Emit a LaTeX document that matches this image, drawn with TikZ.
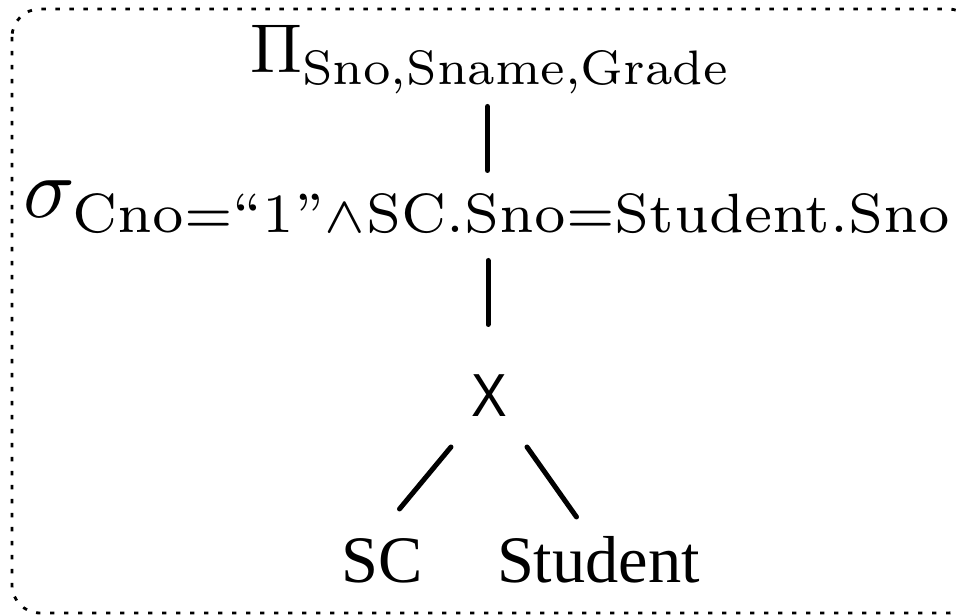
\documentclass[tikz,border=0pt]{standalone}
\usepackage{amsmath}
\usepackage{graphicx}
\usepackage{fontspec}
\newfontfamily\timesf{Liberation Serif}
\newfontfamily\arialf{Liberation Sans}
\begin{document}
\begin{tikzpicture}[x=0.25pt,y=-0.25pt,
  txt/.style={inner sep=0pt, outer sep=0pt, anchor=base},
  conn/.style={line width=1.25pt, line cap=round},
  frame/.style={line width=0.7pt, dash pattern=on 1.1pt off 2.4pt, rounded corners=7pt}]
\useasboundingbox (0,0) rectangle (956,616);
\clip (0,0) rectangle (956,616);
\draw[frame] (12,9) rectangle (976,613);
\node[txt] (pi) at (489.5,73) {\resizebox{119.25pt}{!}{$\Pi$\kern-0.1pt\raisebox{-1.7pt}{\fontsize{7}{8}\selectfont Sno,Sname,Grade}}};
\node[txt] (sig) at (487,218) {\resizebox{231.5pt}{!}{$\sigma$\kern-0.4pt\raisebox{-1.75pt}{\fontsize{6.5}{7.5}\selectfont Cno=``1''$\wedge$SC.Sno=Student.Sno}}};
\node[txt] (x) at (489.5,417) {\scalebox{0.88}[1]{\arialf\fontsize{15.2}{17}\selectfont X}};
\node[txt] (sc) at (382.5,583) {\timesf\fontsize{16.6}{18}\selectfont SC};
\node[txt] (st) at (598.5,583) {\timesf\fontsize{16.6}{18}\selectfont Student};
\draw[conn] ([shift={(-2,33.5)}]pi.base) -- ([shift={(0.5,-47.5)}]sig.base);
\draw[conn] ([shift={(1,42.5)}]sig.base) -- ([shift={(-1.5,-92.5)}]x.base);
\draw[conn] ([shift={(-38.5,30)}]x.base) -- ([shift={(17,-74)}]sc.base);
\draw[conn] ([shift={(37.5,30)}]x.base) -- ([shift={(-22,-66)}]st.base);
\end{tikzpicture}
\end{document}
